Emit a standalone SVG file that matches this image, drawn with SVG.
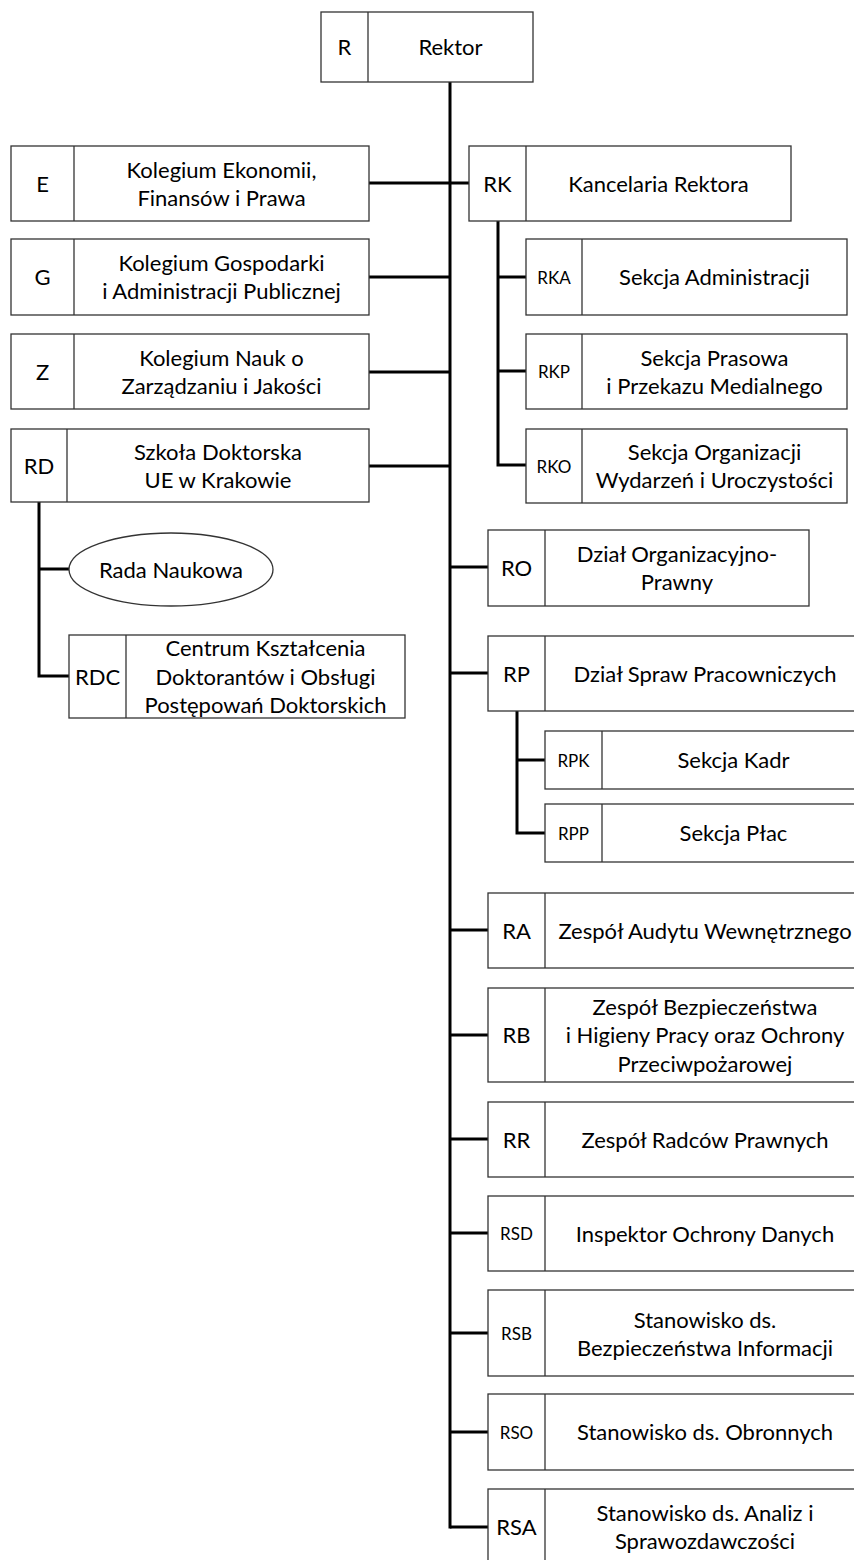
<svg xmlns="http://www.w3.org/2000/svg" width="854" height="1560" viewBox="0 0 854 1560">
<style>
.box{fill:#fff;stroke:#333;stroke-width:1.3}
.div{stroke:#333;stroke-width:1.3}
.t{font-family:Lato,"Liberation Sans",sans-serif;font-size:22px;fill:#000;text-anchor:middle}
.s{font-size:17px}
.c{stroke:#000;stroke-width:3;fill:none}
</style>
<rect width="854" height="1560" fill="#fff"/>
<g id="connectors">
<line class="c" x1="450" y1="82" x2="450" y2="1528.5"/>
<line class="c" x1="369" y1="183" x2="469" y2="183"/>
<line class="c" x1="369" y1="277" x2="450" y2="277"/>
<line class="c" x1="369" y1="372" x2="450" y2="372"/>
<line class="c" x1="369" y1="466" x2="450" y2="466"/>
<path class="c" d="M498 221V465H526M498 277H526M498 371H526"/>
<line class="c" x1="450" y1="567" x2="488" y2="567"/>
<line class="c" x1="450" y1="673" x2="488" y2="673"/>
<path class="c" d="M517 711V833H545M517 760H545"/>
<line class="c" x1="450" y1="930" x2="488" y2="930"/>
<line class="c" x1="450" y1="1035" x2="488" y2="1035"/>
<line class="c" x1="450" y1="1139" x2="488" y2="1139"/>
<line class="c" x1="450" y1="1233" x2="488" y2="1233"/>
<line class="c" x1="450" y1="1333" x2="488" y2="1333"/>
<line class="c" x1="450" y1="1432" x2="488" y2="1432"/>
<path class="c" d="M450 1527H488"/>
<path class="c" d="M39 502V676H69M39 569H69"/>
</g>
<g id="R"><rect class="box" x="321" y="12" width="212" height="70"/><line class="div" x1="368" y1="12" x2="368" y2="82"/><text class="t" x="344.5" y="55">R</text><text class="t" x="450.5" y="55">Rektor</text></g>
<g id="E"><rect class="box" x="11" y="146" width="358" height="75"/><line class="div" x1="74" y1="146" x2="74" y2="221"/><text class="t" x="42.5" y="191.5">E</text><text class="t" x="221.5" y="177.5">Kolegium Ekonomii,</text><text class="t" x="221.5" y="205.5">Finansów i Prawa</text></g>
<g id="G"><rect class="box" x="11" y="239" width="358" height="76"/><line class="div" x1="74" y1="239" x2="74" y2="315"/><text class="t" x="42.5" y="285">G</text><text class="t" x="221.5" y="271">Kolegium Gospodarki</text><text class="t" x="221.5" y="299">i Administracji Publicznej</text></g>
<g id="Z"><rect class="box" x="11" y="334" width="358" height="75"/><line class="div" x1="74" y1="334" x2="74" y2="409"/><text class="t" x="42.5" y="379.5">Z</text><text class="t" x="221.5" y="365.5">Kolegium Nauk o</text><text class="t" x="221.5" y="393.5">Zarządzaniu i Jakości</text></g>
<g id="RD"><rect class="box" x="11" y="429" width="358" height="73"/><line class="div" x1="67" y1="429" x2="67" y2="502"/><text class="t" x="39" y="473.5">RD</text><text class="t" x="218" y="459.5">Szkoła Doktorska</text><text class="t" x="218" y="487.5">UE w Krakowie</text></g>
<g id="RadaNaukowa"><ellipse class="box" cx="171" cy="569.5" rx="102" ry="36.5"/><text class="t" x="171" y="577.5">Rada Naukowa</text></g>
<g id="RDC"><rect class="box" x="69" y="635" width="336" height="83"/><line class="div" x1="126" y1="635" x2="126" y2="718"/><text class="t" x="97.5" y="684.5">RDC</text><text class="t" x="265.5" y="656">Centrum Kształcenia</text><text class="t" x="265.5" y="684.5">Doktorantów i Obsługi</text><text class="t" x="265.5" y="713">Postępowań Doktorskich</text></g>
<g id="RK"><rect class="box" x="469" y="146" width="322" height="75"/><line class="div" x1="526" y1="146" x2="526" y2="221"/><text class="t" x="497.5" y="191.5">RK</text><text class="t" x="658.5" y="191.5">Kancelaria Rektora</text></g>
<g id="RKA"><rect class="box" x="526" y="239" width="321" height="76"/><line class="div" x1="582" y1="239" x2="582" y2="315"/><text class="t s" x="554" y="283.5">RKA</text><text class="t" x="714.5" y="285">Sekcja Administracji</text></g>
<g id="RKP"><rect class="box" x="526" y="334" width="321" height="75"/><line class="div" x1="582" y1="334" x2="582" y2="409"/><text class="t s" x="554" y="378">RKP</text><text class="t" x="714.5" y="365.5">Sekcja Prasowa</text><text class="t" x="714.5" y="393.5">i Przekazu Medialnego</text></g>
<g id="RKO"><rect class="box" x="526" y="429" width="321" height="74"/><line class="div" x1="582" y1="429" x2="582" y2="503"/><text class="t s" x="554" y="472.5">RKO</text><text class="t" x="714.5" y="460">Sekcja Organizacji</text><text class="t" x="714.5" y="488">Wydarzeń i Uroczystości</text></g>
<g id="RO"><rect class="box" x="488" y="530" width="321" height="76"/><line class="div" x1="545" y1="530" x2="545" y2="606"/><text class="t" x="516.5" y="576">RO</text><text class="t" x="677" y="562">Dział Organizacyjno-</text><text class="t" x="677" y="590">Prawny</text></g>
<g id="RP"><rect class="box" x="488" y="636" width="377" height="75"/><line class="div" x1="545" y1="636" x2="545" y2="711"/><text class="t" x="516.5" y="681.5">RP</text><text class="t" x="705" y="681.5">Dział Spraw Pracowniczych</text></g>
<g id="RPK"><rect class="box" x="545" y="731" width="320" height="58"/><line class="div" x1="602" y1="731" x2="602" y2="789"/><text class="t s" x="573.5" y="766.5">RPK</text><text class="t" x="733.5" y="768">Sekcja Kadr</text></g>
<g id="RPP"><rect class="box" x="545" y="804" width="320" height="58"/><line class="div" x1="602" y1="804" x2="602" y2="862"/><text class="t s" x="573.5" y="839.5">RPP</text><text class="t" x="733.5" y="841">Sekcja Płac</text></g>
<g id="RA"><rect class="box" x="488" y="893" width="377" height="75"/><line class="div" x1="545" y1="893" x2="545" y2="968"/><text class="t" x="516.5" y="938.5">RA</text><text class="t" x="705" y="938.5">Zespół Audytu Wewnętrznego</text></g>
<g id="RB"><rect class="box" x="488" y="988" width="377" height="94"/><line class="div" x1="545" y1="988" x2="545" y2="1082"/><text class="t" x="516.5" y="1043">RB</text><text class="t" x="705" y="1014.5">Zespół Bezpieczeństwa</text><text class="t" x="705" y="1043">i Higieny Pracy oraz Ochrony</text><text class="t" x="705" y="1071.5">Przeciwpożarowej</text></g>
<g id="RR"><rect class="box" x="488" y="1102" width="377" height="75"/><line class="div" x1="545" y1="1102" x2="545" y2="1177"/><text class="t" x="516.5" y="1147.5">RR</text><text class="t" x="705" y="1147.5">Zespół Radców Prawnych</text></g>
<g id="RSD"><rect class="box" x="488" y="1196" width="377" height="75"/><line class="div" x1="545" y1="1196" x2="545" y2="1271"/><text class="t s" x="516.5" y="1239.5">RSD</text><text class="t" x="705" y="1241.5">Inspektor Ochrony Danych</text></g>
<g id="RSB"><rect class="box" x="488" y="1290" width="377" height="86"/><line class="div" x1="545" y1="1290" x2="545" y2="1376"/><text class="t s" x="516.5" y="1339.5">RSB</text><text class="t" x="705" y="1327.5">Stanowisko ds.</text><text class="t" x="705" y="1355.5">Bezpieczeństwa Informacji</text></g>
<g id="RSO"><rect class="box" x="488" y="1394" width="377" height="76"/><line class="div" x1="545" y1="1394" x2="545" y2="1470"/><text class="t s" x="516.5" y="1438.5">RSO</text><text class="t" x="705" y="1440">Stanowisko ds. Obronnych</text></g>
<g id="RSA"><rect class="box" x="488" y="1489" width="377" height="76"/><line class="div" x1="545" y1="1489" x2="545" y2="1565"/><text class="t" x="516.5" y="1535">RSA</text><text class="t" x="705" y="1521">Stanowisko ds. Analiz i</text><text class="t" x="705" y="1549">Sprawozdawczości</text></g>
</svg>
